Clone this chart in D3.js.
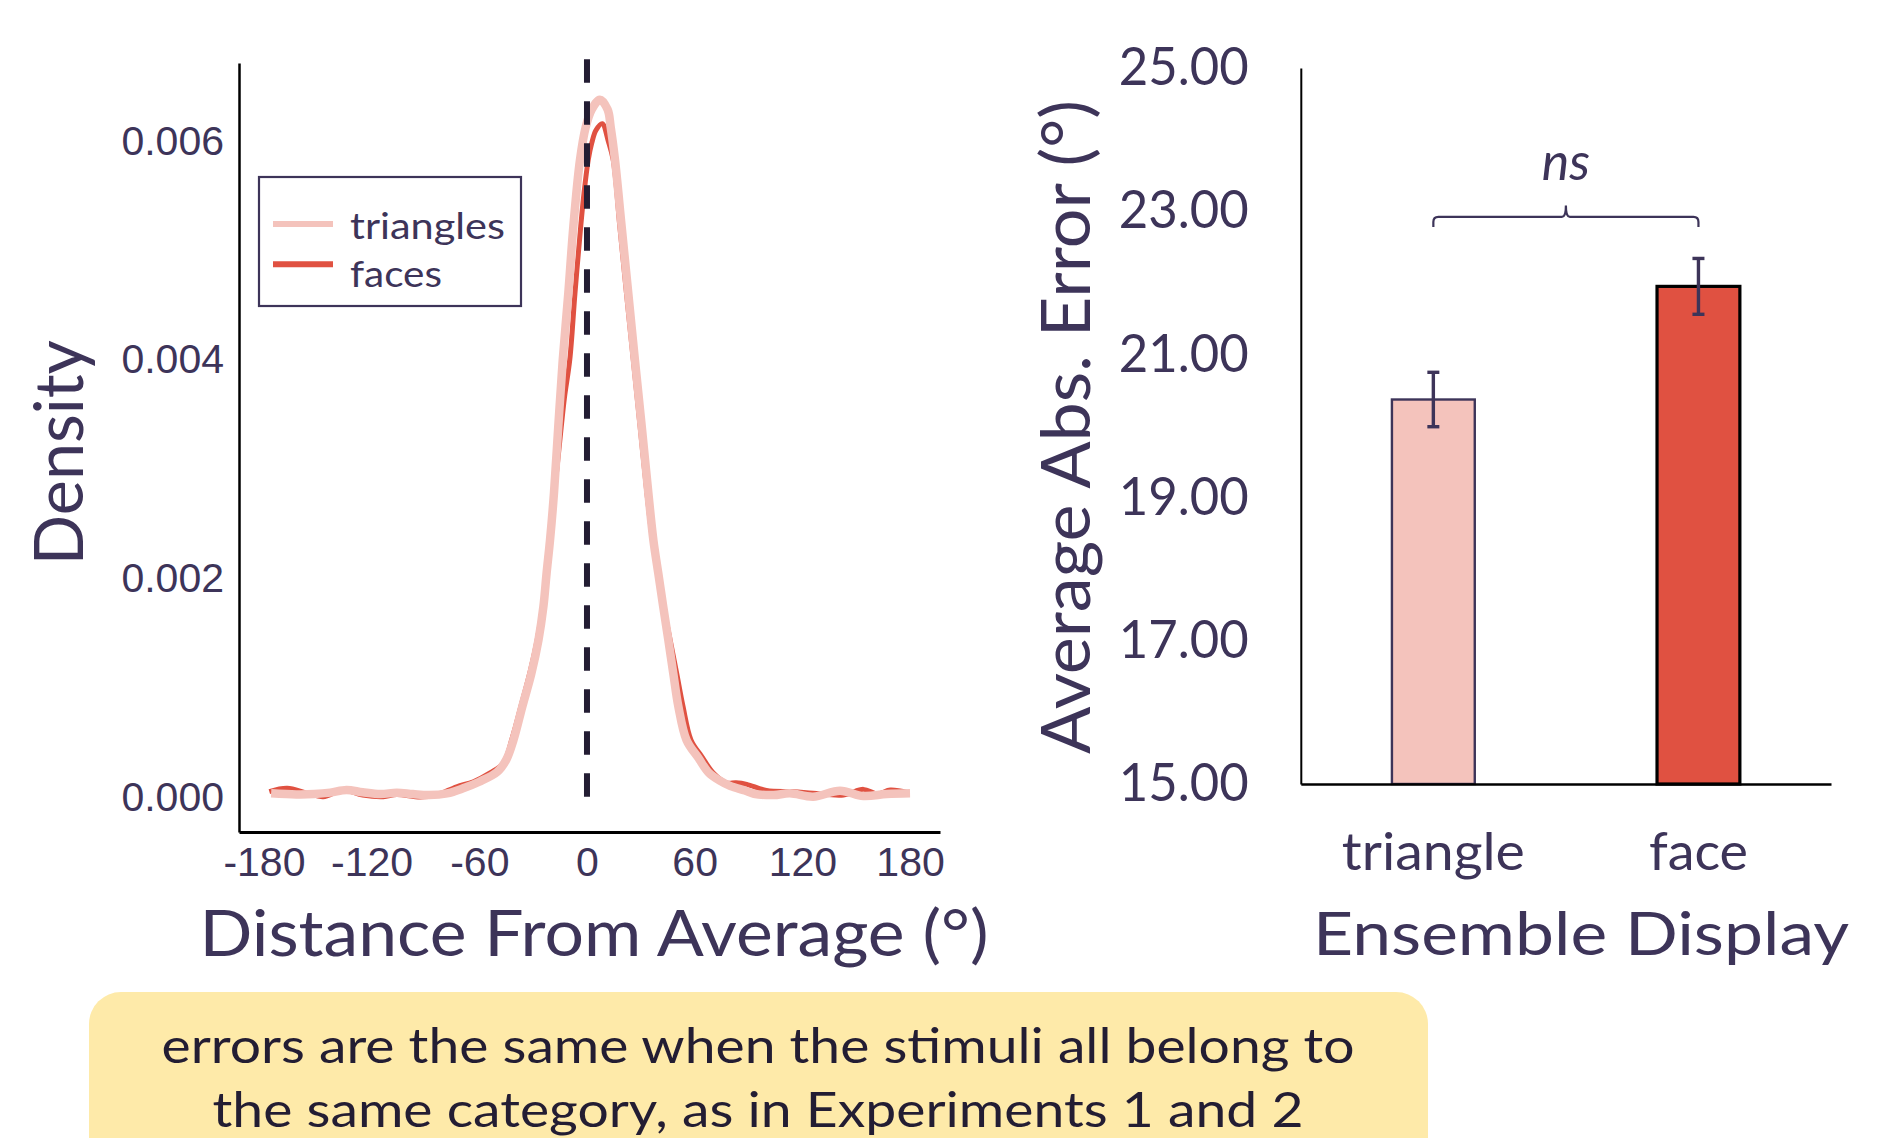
<!DOCTYPE html>
<html>
<head>
<meta charset="utf-8">
<script src="https://cdn.jsdelivr.net/npm/d3@7"></script>
<style>
  html, body { margin: 0; padding: 0; background: #fff; }
  svg { display: block; }
  text { font-family: Lato, "Noto Sans", sans-serif; fill: #3d3459; }
</style>
</head>
<body>
<svg id="chart" width="1885" height="1138"></svg>
<script>
// Left panel: density of response error, triangles vs faces.
// Right panel: mean absolute error per ensemble display, with SE bars.

const seriesNames = ["triangles", "faces"];

const triangleDeg = [-176, -162, -152, -143, -134, -125, -115, -106, -97, -88,
  -78, -69, -60, -50, -45, -41, -36, -31, -27, -24.3,
  -22.5, -20.6, -18.4, -16, -13.5, -10.4, -7.6, -3.9, -0.7, 2.6,
  7.2, 11.5, 13.2, 15.6, 19.3, 23, 26.7, 30.5, 34.2, 37,
  39.7, 42.5, 45.3, 48.1, 50.9, 55.5, 62, 68, 74, 80,
  88, 93, 104, 113, 126, 141, 154, 167, 180];
const triangleDensity = [0.000034, 0.000024, 0.000027, 0.00004, 0.000064, 0.000043, 0.000027, 0.00004, 0.000027, 0.000018,
  0.000034, 0.00008, 0.00014, 0.00023, 0.00034, 0.00052, 0.00083, 0.00113, 0.00144, 0.00174,
  0.00205, 0.00235, 0.00278, 0.00339, 0.0040, 0.00461, 0.00522, 0.00583, 0.00613, 0.00629,
  0.00638, 0.00629, 0.00613, 0.00583, 0.00522, 0.00461, 0.0040, 0.00339, 0.00278, 0.00235,
  0.00205, 0.00174, 0.00144, 0.00113, 0.00083, 0.00052, 0.00036, 0.00022, 0.00015, 0.0001,
  0.00006, 0.00003, 0.000018, 0.000034, 0.000003, 0.000058, 0.000009, 0.000027, 0.000034];

const faceDeg = [-177, -167, -156, -147, -136, -125, -113.5, -106, -93, -84,
  -72.6, -63.3, -54, -46.6, -41.5, -36.5, -31.5, -27.5, -24.5, -22.5,
  -18.2, -15.2, -12.6, -9.6, -6.7, -3.5, -1.7, 0.7, 2.6, 5,
  8.5, 11.9, 14.6, 18.3, 22, 25.8, 29.6, 33.4, 36.5, 39.5,
  42.7, 46.3, 50, 53.5, 58, 64, 70.4, 77.8, 83, 89,
  100, 115, 126, 143, 154, 162, 169, 179];
const faceDensity = [0.00005, 0.00008, 0.000034, 0.000003, 0.000064, 0.000018, 0.000003, 0.000024, 0.0, 0.000018,
  0.000094, 0.00014, 0.00022, 0.00031, 0.00055, 0.00085, 0.00116, 0.00146, 0.00176, 0.00205,
  0.00278, 0.00325, 0.00365, 0.0040, 0.00461, 0.00522, 0.00552, 0.00583, 0.00598, 0.0061,
  0.00616, 0.006, 0.00583, 0.00522, 0.00461, 0.0040, 0.00339, 0.00278, 0.00235, 0.00205,
  0.00174, 0.00144, 0.00113, 0.00083, 0.00052, 0.00037, 0.00022, 0.00013, 0.00013, 0.000116,
  0.00006, 0.000049, 0.000034, 0.000018, 0.00007, 0.00003, 0.000064, 0.00004];

const degTicks = [-180, -120, -60, 0, 60, 120, 180];
const densityTicks = [0, 0.002, 0.004, 0.006];

const barCategories = ["triangle", "face"];
const barMeans = [20.37, 21.95];
const barSE = [0.38, 0.39];
const errorTicks = [15, 17, 19, 21, 23, 25];

const noteLines = [
  "errors are the same when the stimuli all belong to",
  "the same category, as in Experiments 1 and 2"
];

const PINK = "#f4c3bc";
const RED = "#e05141";
const INK = "#3d3459";
const DARK = "#231d33";

const svg = d3.select("#chart");

// ---------- left: density ----------
const L = { left: 239, right: 940, top: 63, bottom: 832 };
const x = d3.scaleLinear().domain([-193.9, 196.7]).range([L.left, L.right]);
const y = d3.scaleLinear().domain([-0.00032, 0.006716]).range([L.bottom, L.top]);

const line = d3.line()
  .x(d => x(d[0]))
  .y(d => y(d[1]))
  .curve(d3.curveCatmullRom.alpha(0.5));

const faces = d3.zip(faceDeg, faceDensity);
const triangles = d3.zip(triangleDeg, triangleDensity);

svg.append("path").datum(faces)
  .attr("d", line).attr("fill", "none")
  .attr("stroke", RED).attr("stroke-width", 5).attr("stroke-linejoin", "round");
svg.append("path").datum(triangles)
  .attr("d", line).attr("fill", "none")
  .attr("stroke", PINK).attr("stroke-width", 8.5).attr("stroke-linejoin", "round");

svg.append("line")
  .attr("x1", x(0)).attr("x2", x(0))
  .attr("y1", y(0.00675)).attr("y2", y(0))
  .attr("stroke", DARK).attr("stroke-width", 6)
  .attr("stroke-dasharray", "23.5,18.5");

const styleAxis = (g, family, size) => {
  g.attr("font-family", null).attr("font-size", null);
  g.select(".domain").attr("stroke", "#000").attr("stroke-width", 2.5);
  g.selectAll("text").attr("fill", INK)
    .style("font-family", family).style("font-size", size + "px");
};

svg.append("g")
  .attr("transform", `translate(${L.left},0)`)
  .call(d3.axisLeft(y).tickValues(densityTicks).tickFormat(d3.format(".3f")).tickSize(0).tickPadding(15))
  .call(g => styleAxis(g, "'Liberation Sans', Arial, sans-serif", 41));

svg.append("g")
  .attr("transform", `translate(0,${L.bottom})`)
  .call(d3.axisBottom(x).tickValues(degTicks).tickFormat(d => String(d)).tickSize(0).tickPadding(15))
  .call(g => styleAxis(g, "'Liberation Sans', Arial, sans-serif", 41))
  .call(g => g.select(".domain").attr("stroke-width", 3));

svg.append("text")
  .attr("transform", "translate(82.7,452.7) rotate(-90)")
  .attr("text-anchor", "middle")
  .attr("font-size", 68).attr("textLength", 225).attr("lengthAdjust", "spacingAndGlyphs")
  .text("Density");

svg.append("text")
  .attr("x", 594).attr("y", 956)
  .attr("text-anchor", "middle")
  .attr("font-size", 63).attr("textLength", 789).attr("lengthAdjust", "spacingAndGlyphs")
  .text("Distance From Average (°)");

// legend
const legend = svg.append("g").attr("transform", "translate(259,177)");
legend.append("rect")
  .attr("width", 262).attr("height", 129)
  .attr("fill", "#fff").attr("stroke", INK).attr("stroke-width", 2.2);
const legendWidths = [155, 92];
seriesNames.forEach((name, i) => {
  const ly = 47 + i * 40.3;
  legend.append("line")
    .attr("x1", 14).attr("x2", 74).attr("y1", ly).attr("y2", ly)
    .attr("stroke", i === 0 ? PINK : RED).attr("stroke-width", 6);
  legend.append("text")
    .attr("x", 91).attr("y", 62 + i * 47.7)
    .attr("font-size", 36).attr("textLength", legendWidths[i]).attr("lengthAdjust", "spacingAndGlyphs")
    .text(name);
});

// ---------- right: bars ----------
const R = { left: 1300.8, right: 1831, top: 68, bottom: 784 };
const yb = d3.scaleLinear().domain([15, 25]).range([R.bottom, R.top]);
const xb = d3.scaleBand().domain(barCategories).range([R.left, R.right])
  .paddingInner(0.6875).paddingOuter(0.34375);
const bw = xb.bandwidth();

svg.append("g").selectAll("rect")
  .data(barCategories)
  .join("rect")
  .attr("x", d => xb(d)).attr("width", bw)
  .attr("y", (d, i) => yb(barMeans[i]))
  .attr("height", (d, i) => yb(15) - yb(barMeans[i]))
  .attr("fill", (d, i) => i === 0 ? PINK : RED)
  .attr("stroke", (d, i) => i === 0 ? INK : "#000")
  .attr("stroke-width", (d, i) => i === 0 ? 2.4 : 3.2);

const err = svg.append("g").attr("stroke", INK).attr("stroke-width", 3.4);
barCategories.forEach((c, i) => {
  const cx = xb(c) + bw / 2;
  const hi = yb(barMeans[i] + barSE[i]), lo = yb(barMeans[i] - barSE[i]);
  err.append("line").attr("x1", cx).attr("x2", cx).attr("y1", hi).attr("y2", lo);
  err.append("line").attr("x1", cx - 6).attr("x2", cx + 6).attr("y1", hi).attr("y2", hi);
  err.append("line").attr("x1", cx - 6).attr("x2", cx + 6).attr("y1", lo).attr("y2", lo);
});

svg.append("g")
  .attr("transform", `translate(${R.left},0)`)
  .call(d3.axisLeft(yb).tickValues(errorTicks).tickFormat(d3.format(".2f")).tickSize(0).tickPadding(52))
  .call(g => styleAxis(g, "Lato, sans-serif", 52))
  .call(g => g.select(".domain").attr("stroke-width", 2))
  .call(g => g.selectAll("text").attr("textLength", 130).attr("lengthAdjust", "spacingAndGlyphs"));

const catWidths = [183, 99];
svg.append("g")
  .attr("transform", `translate(0,${R.bottom})`)
  .call(d3.axisBottom(xb).tickSize(0).tickPadding(49))
  .call(g => styleAxis(g, "Lato, sans-serif", 52))
  .call(g => g.select(".domain").attr("stroke-width", 2.4))
  .call(g => g.selectAll("text")
    .attr("textLength", (d, i) => catWidths[i]).attr("lengthAdjust", "spacingAndGlyphs"));

// ns bracket
const bx0 = xb(barCategories[0]) + bw / 2;
const bx1 = xb(barCategories[1]) + bw / 2;
const by = yb(22.92), byEnd = yb(22.78), byTop = yb(23.08);
const mx = (bx0 + bx1) / 2, r = 5;
const bp = d3.path();
bp.moveTo(bx0, byEnd);
bp.lineTo(bx0, by + r);
bp.quadraticCurveTo(bx0, by, bx0 + r, by);
bp.lineTo(mx - 4, by);
bp.quadraticCurveTo(mx, by, mx, byTop);
bp.quadraticCurveTo(mx, by, mx + 4, by);
bp.lineTo(bx1 - r, by);
bp.quadraticCurveTo(bx1, by, bx1, by + r);
bp.lineTo(bx1, byEnd);
svg.append("path").attr("d", bp.toString())
  .attr("fill", "none").attr("stroke", INK).attr("stroke-width", 2.2);

svg.append("text")
  .attr("x", mx).attr("y", yb(23.44))
  .attr("text-anchor", "middle")
  .attr("font-size", 52).attr("font-style", "italic")
  .text("ns");

svg.append("text")
  .attr("transform", "translate(1090,427) rotate(-90)")
  .attr("text-anchor", "middle")
  .attr("font-size", 67).attr("textLength", 654).attr("lengthAdjust", "spacingAndGlyphs")
  .text("Average Abs. Error (°)");

svg.append("text")
  .attr("x", 1581).attr("y", 955)
  .attr("text-anchor", "middle")
  .attr("font-size", 60).attr("textLength", 536).attr("lengthAdjust", "spacingAndGlyphs")
  .text("Ensemble Display");

// ---------- note box ----------
svg.append("rect")
  .attr("x", 89).attr("y", 992).attr("width", 1339).attr("height", 220)
  .attr("rx", 32).attr("fill", "#feeaa9");
const noteWidths = [1193, 1091];
noteLines.forEach((t, i) => {
  svg.append("text")
    .attr("x", 758).attr("y", 1063 + i * 63.7)
    .attr("text-anchor", "middle")
    .attr("font-size", 48).attr("textLength", noteWidths[i]).attr("lengthAdjust", "spacingAndGlyphs")
    .style("fill", DARK)
    .text(t);
});
</script>
</body>
</html>
